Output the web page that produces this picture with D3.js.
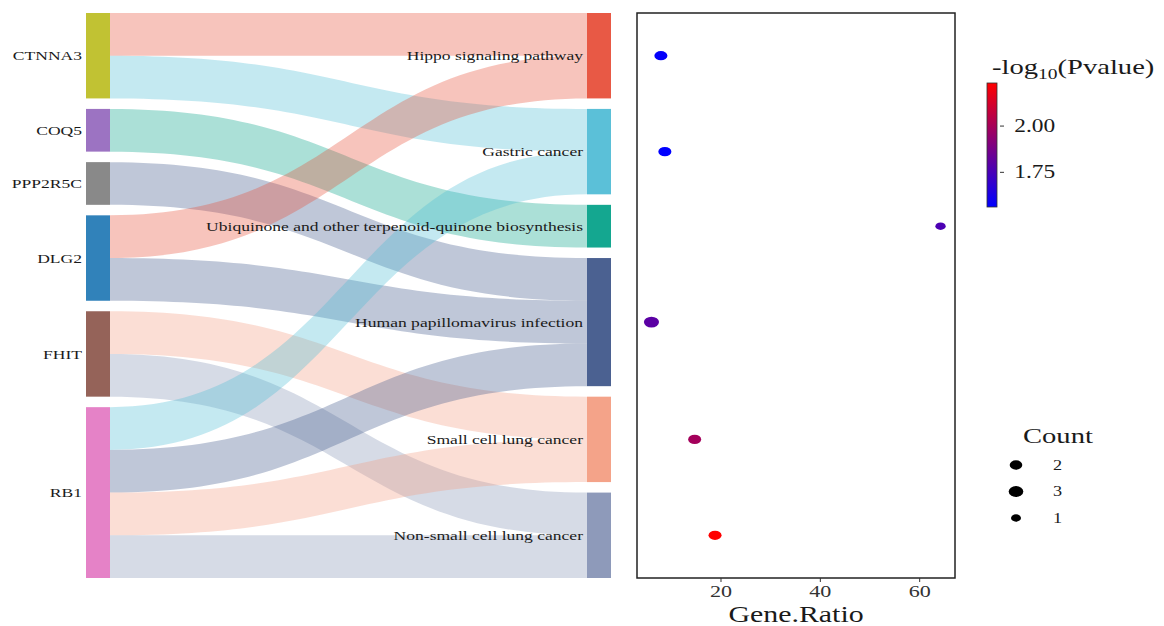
<!DOCTYPE html>
<html lang="en">
  <head>
    <meta charset="UTF-8" />
    <title>Sankey + enrichment dot plot</title>
    <style>
      body {
        margin: 0;
        background: #fff;
      }
      text {
        font-family: "Liberation Serif", "Times New Roman", serif;
        fill: #1a1a1a;
      }
    </style>
  </head>
  <body>
    <svg id="chart" width="1164" height="626"></svg>
  </body>
  <script src="https://cdn.jsdelivr.net/npm/d3@7"></script>
  <script>
    // genes (left) and KEGG pathways (right)
    const genes = ["CTNNA3", "COQ5", "PPP2R5C", "DLG2", "FHIT", "RB1"];
    const pathways = [
      "Hippo signaling pathway",
      "Gastric cancer",
      "Ubiquinone and other terpenoid-quinone biosynthesis",
      "Human papillomavirus infection",
      "Small cell lung cancer",
      "Non-small cell lung cancer",
    ];

    // one flow per gene -> pathway pair
    const linkGene = ["CTNNA3", "CTNNA3", "COQ5", "PPP2R5C", "DLG2", "DLG2", "FHIT", "FHIT", "RB1", "RB1", "RB1", "RB1"];
    const linkPathway = [
      "Hippo signaling pathway",
      "Gastric cancer",
      "Ubiquinone and other terpenoid-quinone biosynthesis",
      "Human papillomavirus infection",
      "Hippo signaling pathway",
      "Human papillomavirus infection",
      "Small cell lung cancer",
      "Non-small cell lung cancer",
      "Gastric cancer",
      "Human papillomavirus infection",
      "Small cell lung cancer",
      "Non-small cell lung cancer",
    ];

    // dot plot, same order as pathways
    const geneRatio = [8.0, 8.8, 64.3, 6.1, 14.8, 18.9];
    const logP = [1.57, 1.56, 1.76, 1.8, 1.99, 2.23];
    const counts = [2, 2, 1, 3, 2, 2];

    const countLegend = [2, 3, 1];
    const xTicks = [20, 40, 60];
    const colorTicks = [1.75, 2.0];

    const geneColors = ["#BCBD22", "#9467BD", "#7F7F7F", "#1F77B4", "#8C564B", "#E377C2"];
    const pathwayColors = ["#E64B35", "#4DBBD5", "#00A087", "#3C5488", "#F39B7F", "#8491B4"];

    const svg = d3.select("#chart");
    const SX = 1.3; // reference text is drawn a bit wide

    function label(g, x, y, txt, size, anchor) {
      return g
        .append("text")
        .attr("transform", `translate(${x},${y}) scale(${SX},1)`)
        .attr("text-anchor", anchor || "start")
        .attr("dy", "0.35em")
        .style("font-size", size + "px")
        .text(txt);
    }

    // ---------- sankey layout ----------
    const yTop = 13,
      yBottom = 578,
      gap = 10.5;
    const leftX = 86,
      rightX = 587,
      nodeW = 24;
    const total = linkGene.length;
    const unit = d3
      .scaleLinear()
      .domain([0, total])
      .range([0, yBottom - yTop - gap * (genes.length - 1)]);

    function column(names, key) {
      let y = yTop;
      let nodes = {};
      names.forEach((n, i) => {
        let v = linkGene.filter((_, j) => (key === "g" ? linkGene[j] : linkPathway[j]) === n).length;
        nodes[n] = { name: n, i: i, y0: y, y1: y + unit(v), cur: y };
        y += unit(v) + gap;
      });
      return nodes;
    }
    const gNodes = column(genes, "g");
    const pNodes = column(pathways, "p");

    let links = linkGene.map((g, i) => ({ g: g, p: linkPathway[i] }));
    // outgoing order by pathway, incoming order by gene
    links
      .slice()
      .sort((a, b) => genes.indexOf(a.g) - genes.indexOf(b.g) || pathways.indexOf(a.p) - pathways.indexOf(b.p))
      .forEach((l) => {
        let n = gNodes[l.g];
        l.sy0 = n.cur;
        l.sy1 = n.cur + unit(1);
        n.cur = l.sy1;
      });
    links
      .slice()
      .sort((a, b) => pathways.indexOf(a.p) - pathways.indexOf(b.p) || genes.indexOf(a.g) - genes.indexOf(b.g))
      .forEach((l) => {
        let n = pNodes[l.p];
        l.ty0 = n.cur;
        l.ty1 = n.cur + unit(1);
        n.cur = l.ty1;
      });

    const x0 = leftX + nodeW,
      x1 = rightX,
      xm = (x0 + x1) / 2;
    function ribbon(l) {
      return (
        `M${x0},${l.sy0}C${xm},${l.sy0} ${xm},${l.ty0} ${x1},${l.ty0}` +
        `L${x1},${l.ty1}C${xm},${l.ty1} ${xm},${l.sy1} ${x0},${l.sy1}Z`
      );
    }

    svg
      .append("g")
      .selectAll("path")
      .data(links)
      .join("path")
      .attr("d", ribbon)
      .style("fill", (d) => pathwayColors[pathways.indexOf(d.p)])
      .style("fill-opacity", 0.33);

    svg
      .append("g")
      .selectAll("rect")
      .data(Object.values(gNodes))
      .join("rect")
      .attr("x", leftX)
      .attr("y", (d) => d.y0)
      .attr("width", nodeW)
      .attr("height", (d) => d.y1 - d.y0)
      .style("fill", (d) => geneColors[d.i])
      .style("fill-opacity", 0.92);

    svg
      .append("g")
      .selectAll("rect")
      .data(Object.values(pNodes))
      .join("rect")
      .attr("x", rightX)
      .attr("y", (d) => d.y0)
      .attr("width", nodeW)
      .attr("height", (d) => d.y1 - d.y0)
      .style("fill", (d) => pathwayColors[d.i])
      .style("fill-opacity", 0.92);

    let labels = svg.append("g");
    Object.values(gNodes).forEach((d) => label(labels, 82, (d.y0 + d.y1) / 2, d.name, 13.5, "end"));
    Object.values(pNodes).forEach((d) => label(labels, 583, (d.y0 + d.y1) / 2, d.name, 13.5, "end"));

    // ---------- dot plot ----------
    const panel = { x0: 637, x1: 955, y0: 13, y1: 578 };
    const ext = d3.extent(geneRatio);
    const pad = (ext[1] - ext[0]) * 0.05;
    const x = d3
      .scaleLinear()
      .domain([ext[0] - pad, ext[1] + pad])
      .range([panel.x0, panel.x1]);
    const color = d3.scaleLinear().domain(d3.extent(logP)).range(["blue", "red"]).interpolate(d3.interpolateRgb);
    const size = d3.scaleSqrt().domain([1, 3]).range([3.7, 5.4]);

    svg
      .append("g")
      .selectAll("ellipse")
      .data(pathways)
      .join("ellipse")
      .attr("cx", (d, i) => x(geneRatio[i]))
      .attr("cy", (d) => (pNodes[d].y0 + pNodes[d].y1) / 2)
      .attr("rx", (d, i) => size(counts[i]) * 1.4)
      .attr("ry", (d, i) => size(counts[i]))
      .style("fill", (d, i) => color(logP[i]));

    svg
      .append("rect")
      .attr("x", panel.x0)
      .attr("y", panel.y0)
      .attr("width", panel.x1 - panel.x0)
      .attr("height", panel.y1 - panel.y0)
      .style("fill", "none")
      .style("stroke", "#222")
      .style("stroke-width", 1.5);

    let xAxis = svg
      .append("g")
      .attr("transform", `translate(0,${panel.y1})`)
      .call(d3.axisBottom(x).tickValues(xTicks).tickSize(4).tickPadding(3));
    xAxis.select(".domain").remove();
    xAxis.selectAll("line").style("stroke", "#333");
    xAxis
      .selectAll("text")
      .attr("transform", `scale(${SX},1)`)
      .style("font-size", "17px")
      .style("font-family", '"Liberation Serif", serif')
      .style("fill", "#333");

    svg
      .append("text")
      .attr("transform", `translate(${(panel.x0 + panel.x1) / 2},622) scale(${SX},1)`)
      .attr("text-anchor", "middle")
      .style("font-size", "23px")
      .text("Gene.Ratio");

    // ---------- colour bar legend ----------
    const bar = { x: 987, w: 10, y0: 83, y1: 207 };
    let grad = svg
      .append("defs")
      .append("linearGradient")
      .attr("id", "pgrad")
      .attr("x1", 0)
      .attr("y1", 1)
      .attr("x2", 0)
      .attr("y2", 0);
    grad.append("stop").attr("offset", 0).attr("stop-color", color(d3.min(logP)));
    grad.append("stop").attr("offset", 1).attr("stop-color", color(d3.max(logP)));

    svg
      .append("rect")
      .attr("x", bar.x)
      .attr("y", bar.y0)
      .attr("width", bar.w)
      .attr("height", bar.y1 - bar.y0)
      .style("fill", "url(#pgrad)")
      .style("stroke", "#333")
      .style("stroke-width", 0.8);

    const barScale = d3.scaleLinear().domain(d3.extent(logP)).range([bar.y1, bar.y0]);
    let cAxis = svg
      .append("g")
      .attr("transform", `translate(${bar.x + bar.w + 3},0)`)
      .call(d3.axisRight(barScale).tickValues(colorTicks).tickFormat(d3.format(".2f")).tickSize(4).tickPadding(7));
    cAxis.select(".domain").remove();
    cAxis.selectAll("line").style("stroke", "#333");
    cAxis
      .selectAll("text")
      .attr("transform", `scale(${SX},1)`)
      .style("font-size", "18px")
      .style("font-family", '"Liberation Serif", serif')
      .style("fill", "#1a1a1a");

    let title = svg
      .append("text")
      .attr("transform", `translate(992,74) scale(${SX},1)`)
      .style("font-size", "22px");
    title.append("tspan").text("-log");
    title.append("tspan").attr("dy", 5).style("font-size", "15px").text("10");
    title.append("tspan").attr("dy", -5).text("(Pvalue)");

    // ---------- count legend ----------
    let cl = svg.append("g");
    label(cl, 1023, 435, "Count", 22, "start");
    countLegend.forEach((c, i) => {
      let y = 465 + i * 26.5;
      cl.append("ellipse")
        .attr("cx", 1016)
        .attr("cy", y)
        .attr("rx", size(c) * 1.35)
        .attr("ry", size(c))
        .style("fill", "#000");
      label(cl, 1053, y, c, 14, "start");
    });
  </script>
</html>
